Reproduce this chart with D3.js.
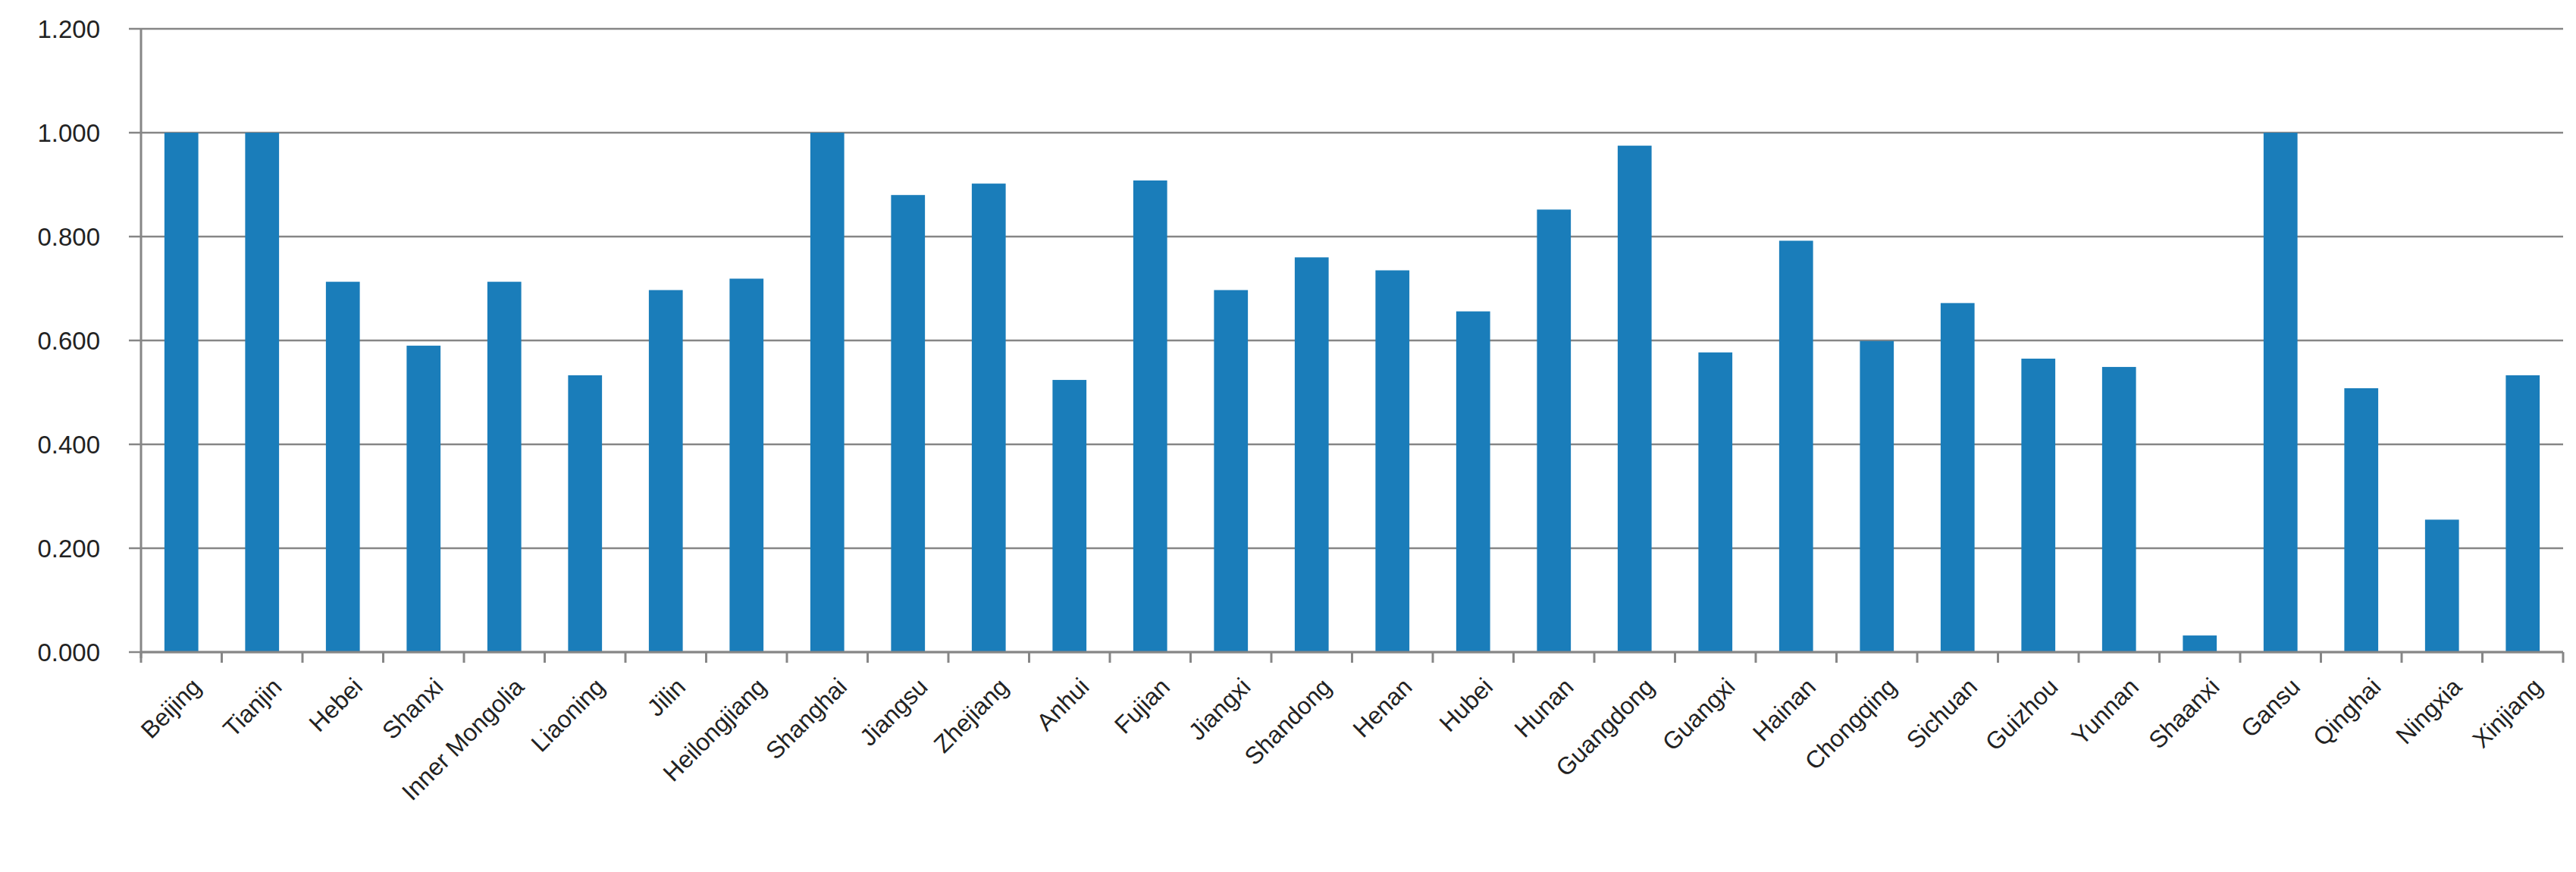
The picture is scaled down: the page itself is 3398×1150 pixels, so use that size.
<!DOCTYPE html>
<html><head><meta charset="utf-8">
<script src="https://cdn.jsdelivr.net/npm/d3@7"></script>
<style>body{margin:0;background:#fff}</style></head>
<body><svg id="c" width="3398" height="1150"></svg>
<script>
const categories=["Beijing","Tianjin","Hebei","Shanxi","Inner Mongolia","Liaoning","Jilin","Heilongjiang","Shanghai","Jiangsu","Zhejiang","Anhui","Fujian","Jiangxi","Shandong","Henan","Hubei","Hunan","Guangdong","Guangxi","Hainan","Chongqing","Sichuan","Guizhou","Yunnan","Shaanxi","Gansu","Qinghai","Ningxia","Xinjiang"];
const values=[1.0,1.0,0.713,0.590,0.713,0.533,0.697,0.719,1.0,0.880,0.902,0.524,0.908,0.697,0.760,0.735,0.656,0.852,0.975,0.577,0.792,0.599,0.672,0.565,0.549,0.032,1.0,0.508,0.255,0.533];
const yTicks=[0,0.2,0.4,0.6,0.8,1.0,1.2];
const svg=d3.select("#c");
const L=186,R=3381,T=38,B=860;
const x=d3.scaleBand().domain(categories).range([L,R]).paddingInner(0.58).paddingOuter(0.29);
const y=d3.scaleLinear().domain([0,1.2]).range([B,T]);
const grid="#868686";
svg.append("g").selectAll("line").data(yTicks).join("line")
 .attr("x1",L-16).attr("x2",R).attr("y1",d=>y(d)).attr("y2",d=>y(d))
 .attr("stroke",grid).attr("stroke-width",2.5);
svg.append("g").selectAll("text").data(yTicks).join("text")
 .attr("x",132).attr("y",d=>y(d)).attr("dy","0.35em").attr("text-anchor","end")
 .attr("font-family","Liberation Sans, Arial").attr("font-size",33).attr("fill","#222")
 .text(d=>d3.format(".3f")(d));
svg.append("g").selectAll("rect").data(values).join("rect")
 .attr("x",(d,i)=>x(categories[i])).attr("width",x.bandwidth())
 .attr("y",d=>y(d)).attr("height",d=>B-y(d)).attr("fill","#1a7dba");
const step=(R-L)/categories.length;
svg.append("line").attr("x1",L).attr("x2",L).attr("y1",T).attr("y2",B+8).attr("stroke",grid).attr("stroke-width",3);
svg.append("g").selectAll("line").data(d3.range(categories.length+1)).join("line")
 .attr("x1",i=>L+i*step).attr("x2",i=>L+i*step).attr("y1",B).attr("y2",B+14)
 .attr("stroke",grid).attr("stroke-width",3);
svg.append("line").attr("x1",L).attr("x2",R).attr("y1",B).attr("y2",B).attr("stroke",grid).attr("stroke-width",3);
svg.append("g").selectAll("text").data(categories).join("text")
 .attr("transform",d=>`translate(${x(d)+x.bandwidth()/2+12},${B+32}) rotate(-45)`)
 .attr("text-anchor","end").attr("dy","0.7em")
 .attr("font-family","Liberation Sans, Arial").attr("font-size",32).attr("fill","#222")
 .text(d=>d);
</script></body></html>
